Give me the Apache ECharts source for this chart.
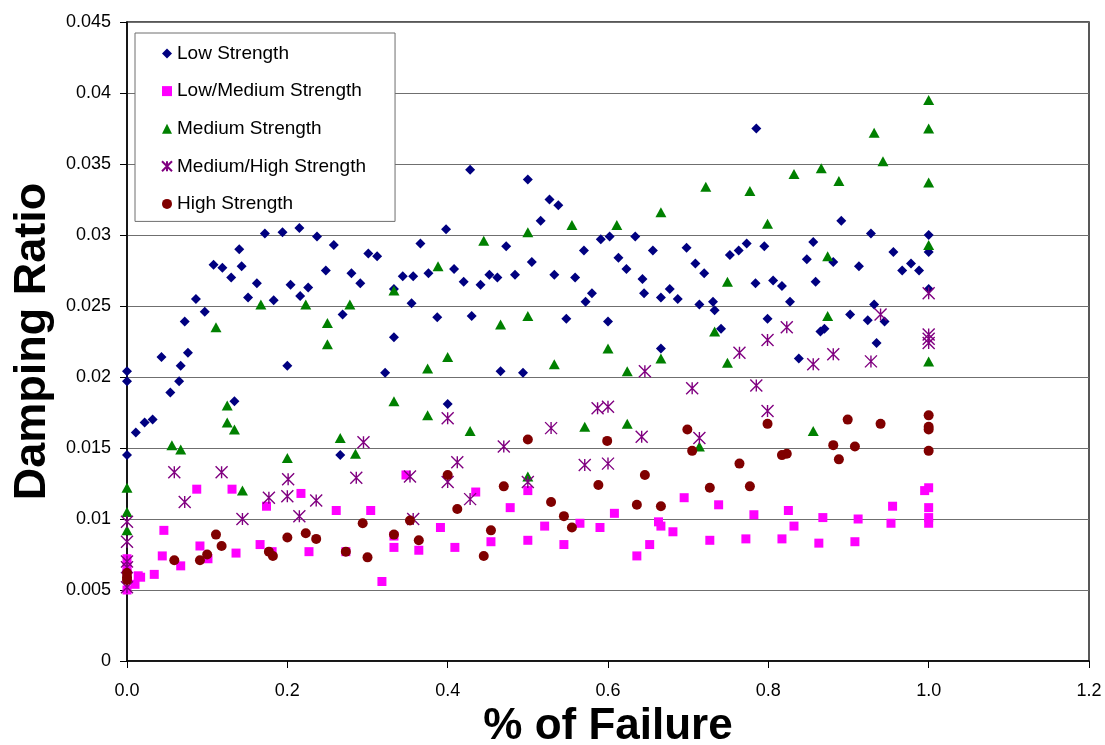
<!DOCTYPE html>
<html>
<head>
<meta charset="utf-8">
<script src="https://cdn.jsdelivr.net/npm/echarts@6/dist/echarts.min.js"></script>
<style>
  html, body { margin: 0; padding: 0; background: #ffffff; }
  #chart { width: 1105px; height: 745px; }
</style>
</head>
<body>
<div id="chart"></div>
<script>
// Series names in legend order
const seriesNames = ['Low Strength', 'Low/Medium Strength', 'Medium Strength', 'Medium/High Strength', 'High Strength'];

// Axis tick labels
const xTickLabels = ['0.0', '0.2', '0.4', '0.6', '0.8', '1.0', '1.2'];
const yTickLabels = ['0', '0.005', '0.01', '0.015', '0.02', '0.025', '0.03', '0.035', '0.04', '0.045'];

// [fraction of failure, damping ratio]
const lowStrength = [
  [0, 0.0204], [0, 0.0197], [0, 0.0145], [0.011, 0.0161], [0.022, 0.0168], [0.032, 0.0170],
  [0.043, 0.0214], [0.054, 0.0189], [0.065, 0.0197], [0.067, 0.0208], [0.076, 0.0217], [0.072, 0.0239],
  [0.086, 0.0255], [0.097, 0.0246], [0.108, 0.0279], [0.119, 0.0277], [0.130, 0.0270], [0.134, 0.0183],
  [0.140, 0.0290], [0.143, 0.0278], [0.151, 0.0256], [0.162, 0.0266], [0.172, 0.0301], [0.183, 0.0254],
  [0.194, 0.0302], [0.200, 0.0208], [0.204, 0.0265], [0.215, 0.0305], [0.216, 0.0257], [0.226, 0.0263],
  [0.237, 0.0299], [0.248, 0.0275], [0.258, 0.0293], [0.266, 0.0145], [0.269, 0.0244], [0.280, 0.0273],
  [0.291, 0.0266], [0.301, 0.0287], [0.312, 0.0285], [0.322, 0.0203], [0.333, 0.0228], [0.333, 0.0262],
  [0.344, 0.0271], [0.355, 0.0252], [0.357, 0.0271], [0.366, 0.0294], [0.376, 0.0273], [0.387, 0.0242],
  [0.398, 0.0304], [0.400, 0.0181], [0.408, 0.0276], [0.420, 0.0267], [0.428, 0.0346], [0.430, 0.0243],
  [0.441, 0.0265], [0.452, 0.0272], [0.462, 0.0270], [0.466, 0.0204], [0.473, 0.0292], [0.484, 0.0272],
  [0.494, 0.0203], [0.500, 0.0339], [0.505, 0.0281], [0.516, 0.0310], [0.527, 0.0325], [0.533, 0.0272],
  [0.538, 0.0321], [0.548, 0.0241], [0.559, 0.0270], [0.570, 0.0289], [0.572, 0.0253], [0.580, 0.0259],
  [0.591, 0.0297], [0.600, 0.0239], [0.602, 0.0299], [0.613, 0.0284], [0.623, 0.0276], [0.634, 0.0299],
  [0.643, 0.0269], [0.645, 0.0259], [0.656, 0.0289], [0.666, 0.0256], [0.666, 0.0220], [0.677, 0.0262],
  [0.687, 0.0255], [0.698, 0.0291], [0.709, 0.0280], [0.714, 0.0251], [0.720, 0.0273], [0.731, 0.0253],
  [0.733, 0.0247], [0.741, 0.0234], [0.752, 0.0286], [0.763, 0.0289], [0.773, 0.0294], [0.784, 0.0266],
  [0.785, 0.0375], [0.795, 0.0292], [0.799, 0.0241], [0.806, 0.0268], [0.817, 0.0264], [0.827, 0.0253],
  [0.838, 0.0213], [0.848, 0.0283], [0.856, 0.0295], [0.859, 0.0267], [0.865, 0.0232], [0.870, 0.0234],
  [0.881, 0.0281], [0.891, 0.0310], [0.902, 0.0244], [0.913, 0.0278], [0.924, 0.0240], [0.928, 0.0301],
  [0.932, 0.0251], [0.935, 0.0224], [0.945, 0.0239], [0.956, 0.0288], [0.967, 0.0275], [0.978, 0.0280],
  [0.988, 0.0275], [1.0, 0.0300], [1.0, 0.0288], [1.0, 0.0262]
];

const lowMediumStrength = [
  [0, 0.0072], [0, 0.0066], [0, 0.0062], [0, 0.0050], [0.010, 0.0054], [0.014, 0.0060], [0.017, 0.0059],
  [0.034, 0.0061], [0.044, 0.0074], [0.046, 0.0092], [0.067, 0.0067], [0.087, 0.0121], [0.091, 0.0081],
  [0.101, 0.0072], [0.131, 0.0121], [0.136, 0.0076], [0.166, 0.0082], [0.174, 0.0109], [0.181, 0.0077],
  [0.217, 0.0118], [0.227, 0.0077], [0.261, 0.0106], [0.273, 0.0077], [0.304, 0.0106], [0.318, 0.0056],
  [0.333, 0.0088], [0.333, 0.0080], [0.348, 0.0131], [0.364, 0.0078], [0.391, 0.0094], [0.409, 0.0080],
  [0.435, 0.0119], [0.454, 0.0084], [0.478, 0.0108], [0.500, 0.0120], [0.500, 0.0085], [0.521, 0.0095],
  [0.545, 0.0082], [0.565, 0.0097], [0.590, 0.0094], [0.608, 0.0104], [0.636, 0.0074], [0.652, 0.0082],
  [0.663, 0.0098], [0.666, 0.0095], [0.681, 0.0091], [0.695, 0.0115], [0.727, 0.0085], [0.738, 0.0110],
  [0.772, 0.0086], [0.782, 0.0103], [0.817, 0.0086], [0.825, 0.0106], [0.832, 0.0095], [0.863, 0.0083],
  [0.868, 0.0101], [0.908, 0.0084], [0.912, 0.0100], [0.953, 0.0097], [0.955, 0.0109], [0.995, 0.0120],
  [1.0, 0.0122], [1.0, 0.0108], [1.0, 0.0101], [1.0, 0.0097]
];

const mediumStrength = [
  [0, 0.0122], [0, 0.0105], [0, 0.0092], [0.056, 0.0152], [0.067, 0.0149], [0.111, 0.0235],
  [0.125, 0.0180], [0.125, 0.0168], [0.134, 0.0163], [0.144, 0.0120], [0.167, 0.0251], [0.200, 0.0143],
  [0.223, 0.0251], [0.250, 0.0238], [0.250, 0.0223], [0.266, 0.0157], [0.278, 0.0251], [0.285, 0.0146],
  [0.333, 0.0261], [0.333, 0.0183], [0.375, 0.0206], [0.375, 0.0173], [0.388, 0.0278], [0.400, 0.0214],
  [0.428, 0.0162], [0.445, 0.0296], [0.466, 0.0237], [0.500, 0.0302], [0.500, 0.0243], [0.500, 0.0130],
  [0.533, 0.0209], [0.555, 0.0307], [0.571, 0.0165], [0.600, 0.0220], [0.611, 0.0307], [0.624, 0.0204],
  [0.624, 0.0167], [0.666, 0.0316], [0.666, 0.0213], [0.714, 0.0151], [0.722, 0.0334], [0.733, 0.0232],
  [0.749, 0.0267], [0.749, 0.0210], [0.777, 0.0331], [0.799, 0.0308], [0.832, 0.0343], [0.856, 0.0162],
  [0.866, 0.0347], [0.874, 0.0285], [0.874, 0.0243], [0.888, 0.0338], [0.932, 0.0372], [0.943, 0.0352],
  [1.0, 0.0395], [1.0, 0.0375], [1.0, 0.0337], [1.0, 0.0293], [1.0, 0.0211]
];

const mediumHighStrength = [
  [0, 0.0098], [0, 0.0084], [0, 0.0070], [0, 0.0066], [0, 0.0052], [0.059, 0.0133], [0.072, 0.0112],
  [0.118, 0.0133], [0.144, 0.0100], [0.177, 0.0115], [0.201, 0.0128], [0.200, 0.0116], [0.215, 0.0102],
  [0.236, 0.0113], [0.286, 0.0129], [0.295, 0.0154], [0.353, 0.0130], [0.357, 0.0100], [0.400, 0.0171],
  [0.400, 0.0126], [0.412, 0.0140], [0.428, 0.0114], [0.470, 0.0151], [0.500, 0.0126], [0.529, 0.0164],
  [0.571, 0.0138], [0.587, 0.0178], [0.600, 0.0179], [0.600, 0.0139], [0.642, 0.0158], [0.646, 0.0204],
  [0.705, 0.0192], [0.714, 0.0157], [0.764, 0.0217], [0.785, 0.0194], [0.799, 0.0226], [0.799, 0.0176],
  [0.823, 0.0235], [0.856, 0.0209], [0.881, 0.0216], [0.928, 0.0211], [0.940, 0.0244], [1.0, 0.0259],
  [1.0, 0.0230], [1.0, 0.0227], [1.0, 0.0224]
];

const highStrength = [
  [0, 0.0062], [0, 0.0059], [0, 0.0057], [0.059, 0.0071], [0.091, 0.0071], [0.100, 0.0075], [0.111, 0.0089],
  [0.118, 0.0081], [0.177, 0.0077], [0.182, 0.0074], [0.200, 0.0087], [0.223, 0.0090], [0.236, 0.0086],
  [0.273, 0.0077], [0.294, 0.0097], [0.300, 0.0073], [0.333, 0.0089], [0.353, 0.0099], [0.364, 0.0085],
  [0.400, 0.0131], [0.412, 0.0107], [0.445, 0.0074], [0.454, 0.0092], [0.470, 0.0123], [0.500, 0.0156],
  [0.529, 0.0112], [0.545, 0.0102], [0.555, 0.0094], [0.588, 0.0124], [0.599, 0.0155], [0.636, 0.0110],
  [0.646, 0.0131], [0.666, 0.0109], [0.699, 0.0163], [0.705, 0.0148], [0.727, 0.0122], [0.764, 0.0139],
  [0.777, 0.0123], [0.799, 0.0167], [0.817, 0.0145], [0.823, 0.0146], [0.881, 0.0152], [0.888, 0.0142],
  [0.899, 0.0170], [0.908, 0.0151], [0.940, 0.0167], [1.0, 0.0173], [1.0, 0.0165], [1.0, 0.0163], [1.0, 0.0148]
];

const seriesData = [lowStrength, lowMediumStrength, mediumStrength, mediumHighStrength, highStrength];

// Marker look for each series
const asteriskPath = 'path://M0 0L10 10M10 0L0 10M5 0L5 10';
const markerStyles = [
  { symbol: 'diamond', size: 10, color: '#000080' },
  { symbol: 'rect', size: 9, color: '#FF00FF' },
  { symbol: 'triangle', size: [11, 10], color: '#008000' },
  { symbol: asteriskPath, size: 12, color: '#800080', stroke: true },
  { symbol: 'circle', size: 10, color: '#800000' }
];

const FONT = '"Liberation Sans", Arial, sans-serif';

const chart = echarts.init(document.getElementById('chart'), null, { renderer: 'canvas' });

const series = seriesNames.map((name, i) => {
  const m = markerStyles[i];
  return {
    name: name,
    type: 'scatter',
    data: seriesData[i],
    symbol: m.symbol,
    symbolSize: m.size,
    itemStyle: m.stroke
      ? { color: m.color, borderColor: m.color, borderWidth: 1.4, opacity: 1 }
      : { color: m.color, opacity: 1 },
    emphasis: { disabled: true },
    animation: false
  };
});

chart.setOption({
  backgroundColor: '#ffffff',
  animation: false,
  grid: {
    left: 127, top: 22, right: 16, bottom: 84,
    show: true,
    borderColor: '#222222',
    borderWidth: 1.5,
    backgroundColor: '#ffffff',
    containLabel: false,
    outerBoundsMode: 'none'
  },
  legend: {
    orient: 'vertical',
    left: 135,
    top: 33,
    padding: [11, 29, 8, 26],
    itemGap: 18.6,
    itemWidth: 10,
    itemHeight: 10,
    backgroundColor: '#ffffff',
    borderColor: '#6e6e6e',
    borderWidth: 1,
    textStyle: { fontFamily: FONT, fontSize: 19, color: '#000000', lineHeight: 19 },
    data: seriesNames.map((name, i) => ({ name: name, icon: markerStyles[i].symbol })),
    selectedMode: false
  },
  xAxis: {
    type: 'value',
    min: 0,
    max: 1.2,
    interval: 0.2,
    name: '% of Failure',
    nameLocation: 'middle',
    nameGap: 41,
    nameTextStyle: { fontFamily: FONT, fontSize: 44, fontWeight: 'bold', color: '#000000' },
    axisLine: { show: true, onZero: false, lineStyle: { color: '#000000', width: 1.5 } },
    axisTick: { show: true, inside: false, length: 7, lineStyle: { color: '#000000', width: 1 } },
    axisLabel: {
      fontFamily: FONT, fontSize: 18, color: '#000000', margin: 21,
      formatter: (v) => xTickLabels[Math.round(v / 0.2)]
    },
    splitLine: { show: false }
  },
  yAxis: {
    type: 'value',
    min: 0,
    max: 0.045,
    interval: 0.005,
    name: 'Damping Ratio',
    nameLocation: 'middle',
    nameGap: 72,
    nameTextStyle: { fontFamily: FONT, fontSize: 45, fontWeight: 'bold', color: '#000000' },
    axisLine: { show: true, onZero: false, lineStyle: { color: '#000000', width: 1.5 } },
    axisTick: { show: true, inside: false, length: 7, lineStyle: { color: '#000000', width: 1 } },
    axisLabel: {
      fontFamily: FONT, fontSize: 18, color: '#000000', margin: 16,
      formatter: (v) => yTickLabels[Math.round(v / 0.005)]
    },
    splitLine: { show: true, lineStyle: { color: '#6f6f6f', width: 1.2 } }
  },
  series: series
});
</script>
</body>
</html>
